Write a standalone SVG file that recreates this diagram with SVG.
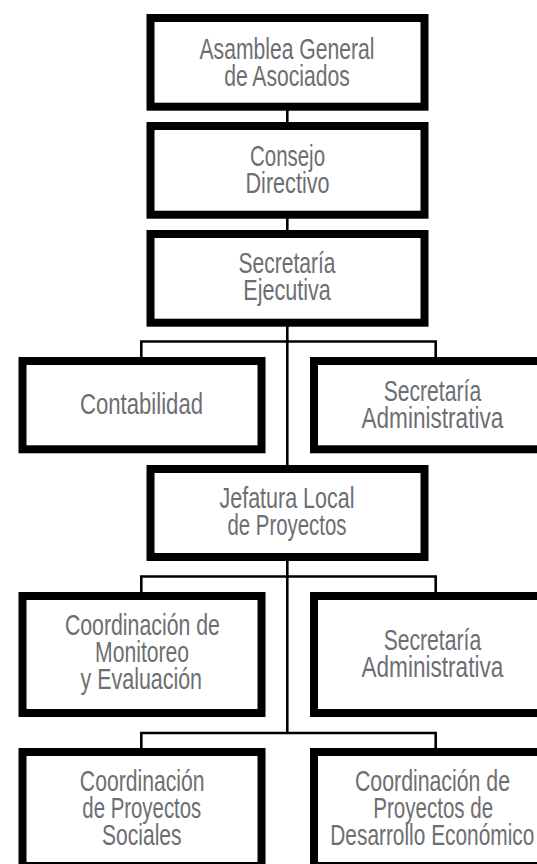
<svg xmlns="http://www.w3.org/2000/svg" width="537" height="864" viewBox="0 0 537 864">
<style>
.box{fill:#ffffff;stroke:#000000;stroke-width:8}
.conn{fill:none;stroke:#000000;stroke-width:2.6;stroke-linejoin:miter}
text{font-family:"Liberation Sans",Arial,sans-serif;font-size:29px;fill:#6d6e71;text-anchor:middle}
</style>
<rect width="537" height="864" fill="#ffffff"/>
<g id="connectors">
<path class="conn" d="M287.3 110 V123 M287.3 218 V231 M287.3 326 V466 M287.3 560 V733"/>
<path class="conn" d="M141.3 358 V341.5 H435.7 V358"/>
<path class="conn" d="M141.3 593 V576.5 H435.7 V593"/>
<path class="conn" d="M141.3 749 V733 H435.7 V749"/>
</g>
<g id="asamblea">
<rect class="box" x="150.5" y="18" width="274" height="88.7"/>
<text x="287" y="59.3" textLength="175" lengthAdjust="spacingAndGlyphs">Asamblea General</text>
<text x="287" y="85.5" textLength="125.7" lengthAdjust="spacingAndGlyphs">de Asociados</text>
</g>
<g id="consejo">
<rect class="box" x="150.5" y="126" width="274" height="88.7"/>
<text x="287.5" y="165.7" textLength="75" lengthAdjust="spacingAndGlyphs">Consejo</text>
<text x="287.5" y="192.7" textLength="84" lengthAdjust="spacingAndGlyphs">Directivo</text>
</g>
<g id="secretaria-ejecutiva">
<rect class="box" x="150.5" y="234" width="274" height="88.7"/>
<text x="287" y="273.3" textLength="97" lengthAdjust="spacingAndGlyphs">Secretaría</text>
<text x="287" y="300" textLength="87.5" lengthAdjust="spacingAndGlyphs">Ejecutiva</text>
</g>
<g id="contabilidad">
<rect class="box" x="22.5" y="361" width="239" height="88.3"/>
<text x="141.5" y="414.3" textLength="123" lengthAdjust="spacingAndGlyphs">Contabilidad</text>
</g>
<g id="secretaria-administrativa-1">
<rect class="box" x="314" y="361" width="239" height="88.3"/>
<text x="432.4" y="401" textLength="97.5" lengthAdjust="spacingAndGlyphs">Secretaría</text>
<text x="432.4" y="428" textLength="142" lengthAdjust="spacingAndGlyphs">Administrativa</text>
</g>
<g id="jefatura">
<rect class="box" x="150.5" y="469" width="274" height="88"/>
<text x="287" y="508.3" textLength="135" lengthAdjust="spacingAndGlyphs">Jefatura Local</text>
<text x="287" y="535" textLength="119" lengthAdjust="spacingAndGlyphs">de Proyectos</text>
</g>
<g id="coord-monitoreo">
<rect class="box" x="22.5" y="596" width="239" height="117"/>
<text x="142.4" y="635" textLength="155" lengthAdjust="spacingAndGlyphs">Coordinación de</text>
<text x="142.1" y="662" textLength="94" lengthAdjust="spacingAndGlyphs">Monitoreo</text>
<text x="141.3" y="689" textLength="121.5" lengthAdjust="spacingAndGlyphs">y Evaluación</text>
</g>
<g id="secretaria-administrativa-2">
<rect class="box" x="314" y="596" width="239" height="117"/>
<text x="432.4" y="650" textLength="97.5" lengthAdjust="spacingAndGlyphs">Secretaría</text>
<text x="432.4" y="677" textLength="142" lengthAdjust="spacingAndGlyphs">Administrativa</text>
</g>
<g id="coord-sociales">
<rect class="box" x="22.5" y="752" width="239" height="114"/>
<text x="142.2" y="791" textLength="124.7" lengthAdjust="spacingAndGlyphs">Coordinación</text>
<text x="141.8" y="818" textLength="119" lengthAdjust="spacingAndGlyphs">de Proyectos</text>
<text x="141.8" y="845" textLength="79.5" lengthAdjust="spacingAndGlyphs">Sociales</text>
</g>
<g id="coord-desarrollo">
<rect class="box" x="314" y="752" width="239" height="114"/>
<text x="432.5" y="791" textLength="155" lengthAdjust="spacingAndGlyphs">Coordinación de</text>
<text x="433.2" y="818" textLength="120" lengthAdjust="spacingAndGlyphs">Proyectos de</text>
<text x="432.3" y="845" textLength="204" lengthAdjust="spacingAndGlyphs">Desarrollo Económico</text>
</g>
</svg>
